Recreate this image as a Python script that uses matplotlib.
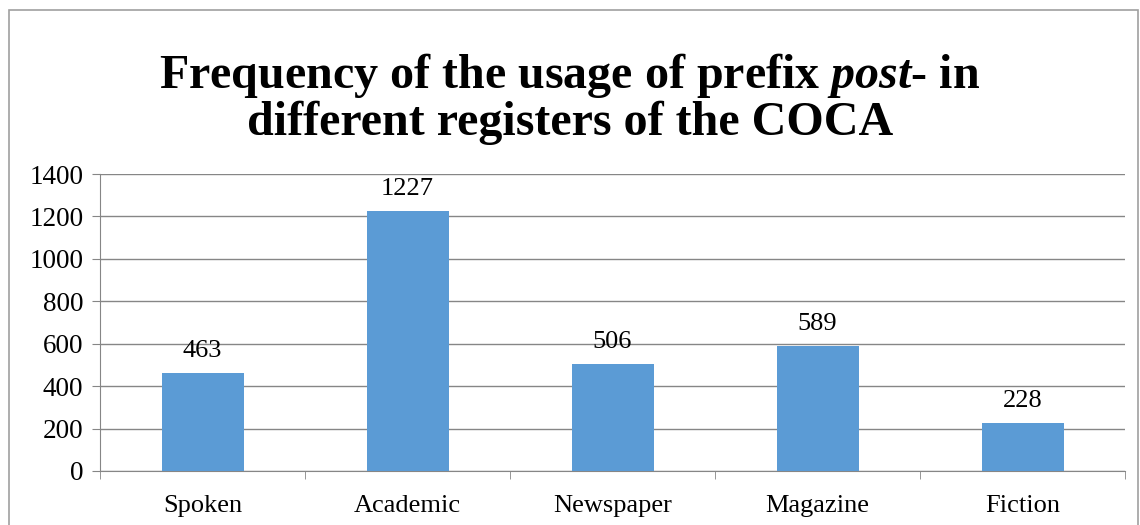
import matplotlib.pyplot as plt
from matplotlib.patches import Rectangle

categories = ["Spoken", "Academic", "Newspaper", "Magazine", "Fiction"]
counts = [463, 1227, 506, 589, 228]
y_ticks = [0, 200, 400, 600, 800, 1000, 1200, 1400]

W, H = 1140, 525
plt.rcParams["font.family"] = ["Liberation Serif", "DejaVu Serif"]
plt.rcParams["mathtext.fontset"] = "custom"
plt.rcParams["mathtext.it"] = "Liberation Serif:italic:bold"

fig = plt.figure(figsize=(W / 100, H / 100), dpi=100)
ax = fig.add_axes([100 / W, 1 - 471 / H, 1025 / W, 297 / H])

x = range(len(categories))
bars = ax.bar(x, counts, width=0.4, color="#5B9BD5", zorder=3)
ax.bar_label(bars, padding=8, fontsize=19)

ax.set_xlim(-0.5, len(categories) - 0.5)
ax.set_ylim(0, 1400)
ax.set_yticks(y_ticks)
ax.set_xticks(list(x))
ax.set_xticklabels(categories)
ax.set_xticks([i - 0.5 for i in range(len(categories) + 1)], minor=True)
ax.tick_params(axis="x", which="major", length=0, pad=17, labelsize=19)
ax.tick_params(axis="x", which="minor", length=6, color="#868686", direction="out")
ax.tick_params(axis="y", length=6, color="#868686", labelsize=19.5, pad=6)

ax.grid(axis="y", color="#868686", linewidth=1, zorder=0)
for side in ["top", "right"]:
    ax.spines[side].set_visible(False)
ax.spines["left"].set_color("#868686")
ax.spines["bottom"].set_color("#868686")

# title, two lines, "post" in bold italic
fig.text(0.5, 1 - 88 / H, r"Frequency of the usage of prefix $\mathit{post}$- in",
         ha="center", va="baseline", fontsize=34.6, fontweight="bold")
fig.text(0.5, 1 - 135 / H, "different registers of the COCA",
         ha="center", va="baseline", fontsize=34.6, fontweight="bold")

# light frame around the whole chart
fig.add_artist(Rectangle((9 / W, -0.05), 1129 / W, 1.05 - 10 / H,
                         transform=fig.transFigure, fill=False,
                         edgecolor="#A0A0A0", linewidth=1.2))

fig.savefig("out.png", dpi=100)
